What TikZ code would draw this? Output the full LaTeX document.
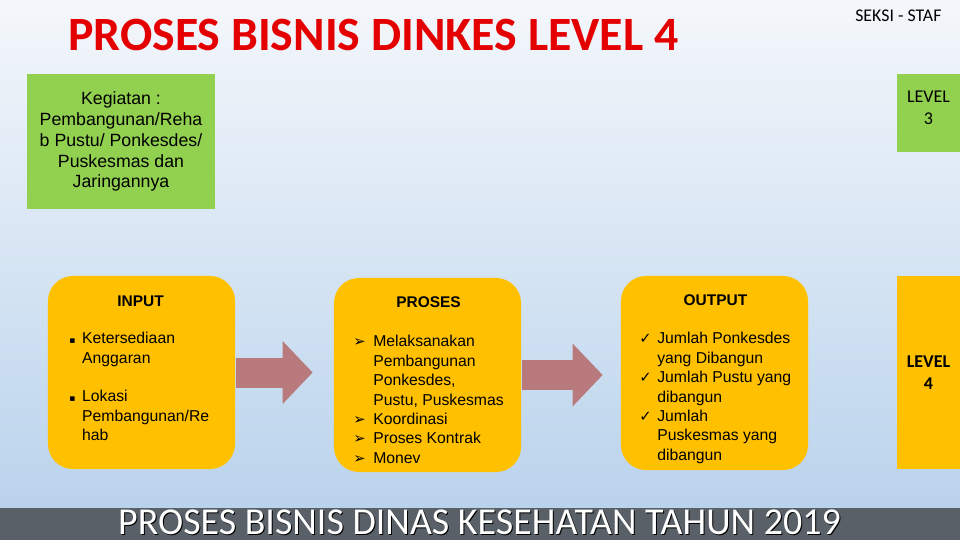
\documentclass[tikz,border=0pt]{standalone}
\usepackage{fontspec}
\setmainfont{Liberation Sans}
\newfontfamily\calibri{Carlito}
\newfontfamily\symfont{DejaVu Sans}
\usetikzlibrary{arrows.meta}

\definecolor{skytop}{RGB}{244,247,251}
\definecolor{skybottom}{RGB}{186,211,236}
\definecolor{boxgreen}{RGB}{146,208,80}
\definecolor{boxyellow}{RGB}{255,192,0}
\definecolor{arrowrose}{RGB}{184,122,125}
\definecolor{bandgray}{RGB}{89,96,104}
\definecolor{titlered}{RGB}{228,0,0}

\newcommand{\listsym}[3]{\makebox[#1][l]{\symfont\fontsize{#2}{#2}\selectfont #3}}

\begin{document}
\begin{tikzpicture}[x=0.025cm,y=-0.025cm,
        listtext/.style={anchor=base west,inner sep=0pt,align=left,font=\fontsize{11.2}{13.75}\selectfont},
        headtext/.style={anchor=base,inner sep=0pt,font=\bfseries\fontsize{11}{13}\selectfont},
        leveltext/.style={font=\calibri\fontsize{12.8}{15.6}\selectfont,align=center}]
        \useasboundingbox (0,0) rectangle (960,540);
        \shade[top color=skytop,bottom color=skybottom] (0,0) rectangle (960,508);
        \fill[bandgray] (0,508) rectangle (960,540);

        \node[anchor=base west,inner sep=0pt,text=titlered,font=\calibri\bfseries\fontsize{34}{34}\selectfont] (title) at (68,50) {PROSES BISNIS DINKES LEVEL 4};
        \node[anchor=base west,inner sep=0pt,font=\calibri\fontsize{12.7}{15}\selectfont] (seksi) at (855,21) {SEKSI - STAF};

        \begin{scope}[every node/.style={inner sep=0pt}]
            \node[fill=boxgreen,minimum width=4.7cm,minimum height=3.375cm,align=center,font=\fontsize{12.6}{14.9}\selectfont] (kegiatan) at (121,141.5)
                {Kegiatan :\\Pembangunan/Reha\\b Pustu/ Ponkesdes/\\Puskesmas dan\\Jaringannya};
            \node[fill=boxgreen,minimum width=1.575cm,minimum height=1.95cm,leveltext,text depth=7pt] (level3) at (928.5,113) {LEVEL\\3};

            \node[fill=boxyellow,rounded corners=0.625cm,minimum width=4.675cm,minimum height=4.825cm] (input) at (141.5,372.5) {};
            \node[fill=boxyellow,rounded corners=0.625cm,minimum width=4.675cm,minimum height=4.85cm] (proses) at (427.5,375) {};
            \node[fill=boxyellow,rounded corners=0.625cm,minimum width=4.675cm,minimum height=4.85cm] (output) at (714.5,373) {};
            \node[fill=boxyellow,minimum width=1.575cm,minimum height=4.825cm,leveltext,font=\calibri\bfseries\fontsize{12.8}{15.6}\selectfont] (level4) at (928.5,372.5) {LEVEL\\4};
        \end{scope}

        \node[headtext] (inputhead) at (140.5,306) {INPUT};
        \node[headtext] (proseshead) at (428.5,307) {PROSES};
        \node[headtext] (outputhead) at (715.5,305) {OUTPUT};

        \node[listtext] (inputlist) at (69,440.5) {\listsym{9.2pt}{6.5}{▪}Ketersediaan\\
            \hspace*{9.2pt}Anggaran\\[13.75pt]
            \listsym{9.2pt}{6.5}{▪}Lokasi\\
            \hspace*{9.2pt}Pembangunan/Re\\
            \hspace*{9.2pt}hab};
        \node[listtext] (proseslist) at (353,463) {\listsym{14.2pt}{10.5}{➢}Melaksanakan\\
            \hspace*{14.2pt}Pembangunan\\
            \hspace*{14.2pt}Ponkesdes,\\
            \hspace*{14.2pt}Pustu, Puskesmas\\
            \listsym{14.2pt}{10.5}{➢}Koordinasi\\
            \listsym{14.2pt}{10.5}{➢}Proses Kontrak\\
            \listsym{14.2pt}{10.5}{➢}Monev};
        \node[listtext] (outputlist) at (639,460) {\listsym{12.8pt}{10.5}{✓}Jumlah Ponkesdes\\
            \hspace*{12.8pt}yang Dibangun\\
            \listsym{12.8pt}{10.5}{✓}Jumlah Pustu yang\\
            \hspace*{12.8pt}dibangun\\
            \listsym{12.8pt}{10.5}{✓}Jumlah\\
            \hspace*{12.8pt}Puskesmas yang\\
            \hspace*{12.8pt}dibangun};

        \begin{scope}[every edge/.style={draw=arrowrose,line width=0.75cm}]
            \path [-{Triangle[length=0.75cm,width=1.525cm]},shorten <=0.025cm,shorten >=0.525cm] (input.east) edge (input.east -| proses.west);
            \path [-{Triangle[length=0.75cm,width=1.525cm]},shorten <=0.025cm,shorten >=0.45cm] (proses.east) edge (proses.east -| output.west);
        \end{scope}

        \node[anchor=base,inner sep=0pt,text=black,font=\calibri\fontsize{27}{28}\selectfont] (bandshadow) at (480.5,535) {PROSES BISNIS DINAS KESEHATAN TAHUN 2019};
        \node[anchor=base,inner sep=0pt,text=white,font=\calibri\fontsize{27}{28}\selectfont] (bandtext) at (479.5,534) {PROSES BISNIS DINAS KESEHATAN TAHUN 2019};
\end{tikzpicture}
\end{document}
